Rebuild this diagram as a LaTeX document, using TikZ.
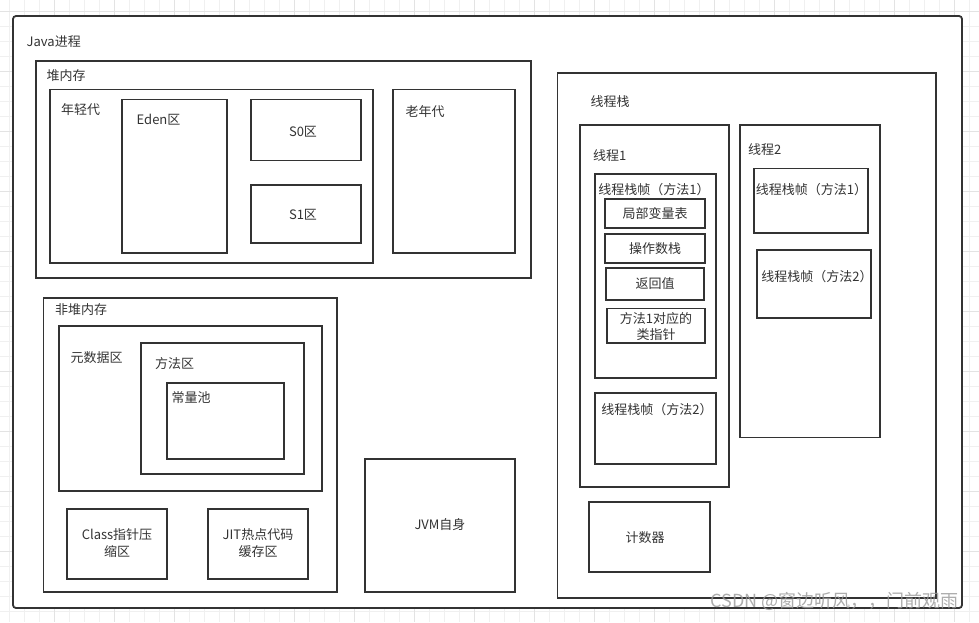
\documentclass[tikz,border=0pt]{standalone}
\usepackage{fontspec}
\setmainfont{Noto Sans CJK SC}
\usetikzlibrary{fit}
\definecolor{ln}{HTML}{333333}
\definecolor{tx}{HTML}{333333}
\definecolor{gmin}{HTML}{F0F0F0}
\definecolor{gmaj}{HTML}{E3E3E3}
\tikzset{
  box/.style={draw=ln, line width=1.8pt, fill=white, inner sep=0pt},
  lbl/.style={anchor=west, inner sep=0pt, text=tx, font=\fontsize{13}{17}\selectfont},
  ctr/.style={inner sep=0pt, text=tx, font=\fontsize{13}{17}\selectfont, align=center},
  wm/.style={anchor=west, inner sep=0pt, text=black!40, opacity=0.8, font=\fontsize{18}{21}\selectfont},
}
\begin{document}
\begin{tikzpicture}[x=1pt,y=-1pt]
\useasboundingbox (0,0) rectangle (979,622);
% background grid
\fill[white] (0,0) rectangle (979,622);
\foreach \k in {0,...,64} {\draw[gmin, line width=0.8pt] (9.3+15*\k,0) -- (9.3+15*\k,622);}
\foreach \k in {0,...,40} {\draw[gmin, line width=0.8pt] (0,11.7+15*\k) -- (979,11.7+15*\k);}
\foreach \k in {0,...,15} {\draw[gmaj, line width=0.8pt] (54.3+60*\k,0) -- (54.3+60*\k,622);}
\foreach \k in {0,...,9} {\draw[gmaj, line width=0.8pt] (0,11.7+60*\k) -- (979,11.7+60*\k);}

% outer process box
\node[box, rounded corners=3pt, fit={(13,16) (962,608)}] (outer) {};
\node[lbl] (lJava) at (26.5,41.7) {Java进程};

% heap
\node[box, fit={(36,61) (531,278)}] (heap) {};
\node[lbl] (lheap) at (46.5,76) {堆内存};
\node[box, fit={(50,89.5) (373,263)}] (young) {};
\node[lbl] (lyoung) at (61,110) {年轻代};
\node[box, fit={(122,99.5) (227,253)}] (eden) {};
\node[lbl] (leden) at (136.5,120) {Eden区};
\node[box, fit={(251,99.5) (361,160.5)}] (s0) {};
\node[ctr] (ls0) at (303,131.5) {S0区};
\node[box, fit={(251,185) (361,243)}] (s1) {};
\node[ctr] (ls1) at (303,215) {S1区};
\node[box, fit={(393,89.5) (515,253)}] (old) {};
\node[lbl] (lold) at (405.5,111.5) {老年代};

% non-heap
\node[box, fit={(43.5,298) (337,592)}] (nonheap) {};
\node[lbl] (lnonheap) at (55,310) {非堆内存};
\node[box, fit={(59,326) (322,491)}] (meta) {};
\node[lbl] (lmeta) at (70.5,357.7) {元数据区};
\node[box, fit={(141,343) (304,474)}] (method) {};
\node[lbl] (lmethod) at (155,364) {方法区};
\node[box, fit={(167,383) (284,459)}] (pool) {};
\node[lbl] (lpool) at (171.5,398) {常量池};
\node[box, fit={(67,509) (167,579)}] (cls) {};
\node[ctr] (lcls) at (117,543.5) {Class指针压\\缩区};
\node[box, fit={(208,509) (308,579)}] (jit) {};
\node[ctr] (ljit) at (258,543.5) {JIT热点代码\\缓存区};
\node[box, fit={(365,459) (515,592)}] (jvm) {};
\node[ctr] (ljvm) at (440,525) {JVM自身};

% thread stacks
\node[box, fit={(557.5,73) (936,598)}] (stack) {};
\node[lbl] (lstack) at (590.5,101.7) {线程栈};
\node[box, fit={(580,125) (729,487)}] (t1) {};
\node[lbl] (lt1) at (593,155.7) {线程1};
\node[box, fit={(595,174) (716,378)}] (t1f1) {};
\node[ctr] (lt1f1) at (654,190) {线程栈帧（方法1）};
\node[box, fit={(605,199) (705,228)}] (lv) {};
\node[ctr] (llv) at (655,214) {局部变量表};
\node[box, fit={(605,234) (705,263)}] (ops) {};
\node[ctr] (lops) at (655,248.5) {操作数栈};
\node[box, fit={(606,268) (704,300)}] (ret) {};
\node[ctr] (lret) at (655,284) {返回值};
\node[box, fit={(607,308.5) (705,343)}] (ptr) {};
\node[ctr, font=\fontsize{13}{16}\selectfont] (lptr) at (656,326.3) {方法1对应的\\类指针};
\node[box, fit={(595,393) (716,464)}] (t1f2) {};
\node[ctr] (lt1f2) at (657,409.3) {线程栈帧（方法2）};
\node[box, fit={(589,502) (710,572)}] (pc) {};
\node[ctr] (lpc) at (645,537.5) {计数器};
\node[box, fit={(740,125) (880,437.5)}] (t2) {};
\node[lbl] (lt2) at (748,150) {线程2};
\node[box, fit={(754,168.5) (868,233)}] (t2f1) {};
\node[ctr] (lt2f1) at (811.5,189.3) {线程栈帧（方法1）};
\node[box, fit={(757,250) (871,318)}] (t2f2) {};
\node[ctr] (lt2f2) at (817,276.7) {线程栈帧（方法2）};

% watermark
\node[wm] (wmark) at (710.5,601.5) {CSDN @窗边听风，，门前观雨};
\end{tikzpicture}
\end{document}
